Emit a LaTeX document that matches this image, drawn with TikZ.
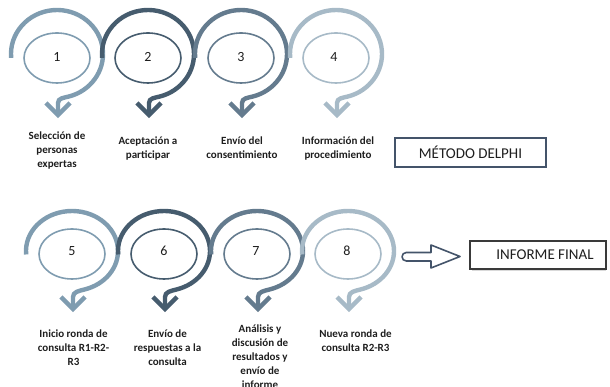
\documentclass[tikz,border=0pt]{standalone}
\usepackage{fontspec}
\setmainfont{Carlito}
\definecolor{cA}{HTML}{7F9CB0}
\definecolor{cB}{HTML}{465C6E}
\definecolor{cC}{HTML}{647B8E}
\definecolor{cD}{HTML}{A7BAC7}
\definecolor{txt}{HTML}{1E1E1E}
\definecolor{boxline}{HTML}{44546A}
\definecolor{boxtwo}{HTML}{3A3A3A}
\tikzset{
  ring/.style={line width=4.4pt},
  innerring/.style={line width=1.6pt},
  numtxt/.style={font=\fontsize{14}{16}\selectfont, text=txt, inner sep=0pt},
  lbl/.style={font=\bfseries\fontsize{11}{14}\selectfont, text=txt, align=center, anchor=north, inner sep=0pt},
  bigbox/.style={draw=boxline, line width=1.8pt, fill=white, inner sep=0pt},
  bigtxt/.style={font=\fontsize{15}{18}\selectfont, text=txt, inner sep=0pt},
  blockarrow/.style={draw=boxline, line width=1.6pt, line join=round, fill=white}
}
% #1 cx, #2 cy, #3 ry, #4 colour, #5 tip y, #6 inner ellipse y
\newcommand{\ringstep}[6]{%
  \draw[ring, draw=#4] ([shift={(185:46 and #3)}]#1,#2)
     arc[start angle=185, end angle=-75, x radius=46, y radius=#3]
     to[out=195, in=90] (#1+1,#5+12) -- (#1+1,#5+1);
  \draw[ring, draw=#4] (#1-11,#5+12) -- (#1+1,#5) -- (#1+13,#5+12);
  \draw[innerring, draw=#4] (#1,#6) ellipse[x radius=33, y radius=25];
}
\begin{document}
\begin{tikzpicture}[x=1pt, y=1pt]
\useasboundingbox (0,0) rectangle (610,387);

% top row
\ringstep{57}{333}{44}{cA}{272}{329}
\ringstep{148}{333}{44}{cB}{272}{329}
\ringstep{241}{333}{44}{cC}{272}{329}
\ringstep{336}{333}{44}{cD}{272}{329}

\node[numtxt] (n1) at (57,330) {1};
\node[numtxt] (n2) at (148,330) {2};
\node[numtxt] (n3) at (241,330) {3};
\node[numtxt] (n4) at (334,330) {4};

\node[lbl] (l1) at (57,255) {Selección de\\personas\\expertas};
\node[lbl] (l2) at (148,250) {Aceptación a\\participar};
\node[lbl] (l3) at (242,250) {Envío del\\consentimiento};
\node[lbl] (l4) at (338,250) {Información del\\procedimiento};

% bottom row
\ringstep{72}{136}{40}{cA}{78}{133}
\ringstep{164}{136}{40}{cB}{78}{133}
\ringstep{257}{136}{40}{cC}{78}{133}
\ringstep{348}{136}{40}{cD}{78}{133}

\node[numtxt] (n5) at (72,136) {5};
\node[numtxt] (n6) at (164,136) {6};
\node[numtxt] (n7) at (256,136) {7};
\node[numtxt] (n8) at (347,136) {8};

\node[lbl] (l5) at (73.5,57.5) {Inicio ronda de\\consulta R1-R2-\\R3};
\node[lbl] (l6) at (167.5,57.5) {Envío de\\respuestas a la\\consulta};
\node[lbl] (l7) at (260,62) {Análisis y\\discusión de\\resultados y\\envío de\\informe};
\node[lbl] (l8) at (355.5,57) {Nueva ronda de\\consulta R2-R3};

% boxes
\node[bigbox, minimum width=151pt, minimum height=29pt] (delphi) at (470.5,234.5) {};
\node[bigtxt] (delphitxt) at (470.5,234.5) {MÉTODO DELPHI};

\draw[gray!30, line width=1pt] (472,116.2) -- (606,116.2);
\node[draw=boxtwo, line width=1.3pt, fill=white, minimum width=136pt, minimum height=28pt, inner sep=0pt] (final) at (538,132) {};
\node[bigtxt] (finaltxt) at (545,132) {INFORME FINAL};

% block arrow
\coordinate (arrowtail) at (402,130.5);
\draw[blockarrow] (431,134.5) -- (431,142) -- (460,130.5) -- (431,119) -- (431,126)
   -- (406.25,126) arc[start angle=-90, end angle=-270, radius=4.25] -- cycle;
\end{tikzpicture}
\end{document}
